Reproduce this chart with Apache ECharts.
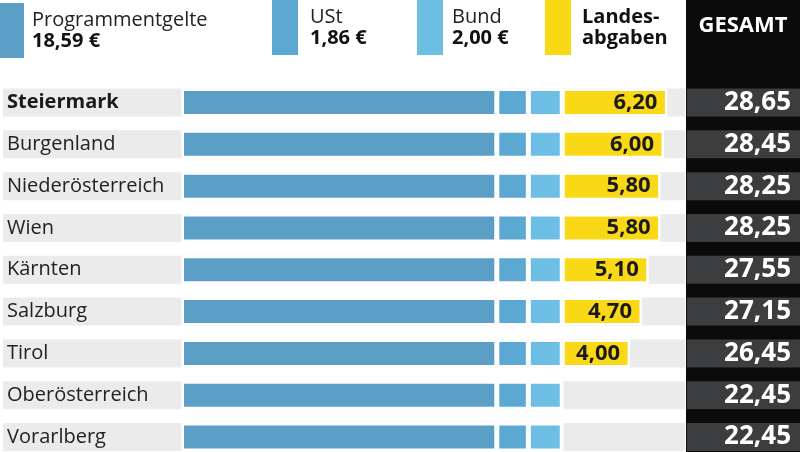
<!DOCTYPE html>
<html>
<head>
<meta charset="utf-8">
<script src="https://cdn.jsdelivr.net/npm/echarts@6/dist/echarts.min.js"></script>
<style>
html,body{margin:0;padding:0;background:#fff;}
#chart{width:800px;height:452px;}
</style>
</head>
<body>
<div id="chart"></div>
<script>
const categories = ['Steiermark','Burgenland','Niederösterreich','Wien','Kärnten','Salzburg','Tirol','Oberösterreich','Vorarlberg'];
const boldCategory = 'Steiermark';
const programmentgelte = [18.59,18.59,18.59,18.59,18.59,18.59,18.59,18.59,18.59];
const ust = [1.86,1.86,1.86,1.86,1.86,1.86,1.86,1.86,1.86];
const bund = [2.00,2.00,2.00,2.00,2.00,2.00,2.00,2.00,2.00];
const landesabgaben = [6.20,6.00,5.80,5.80,5.10,4.70,4.00,0,0];
const gesamt = [28.65,28.45,28.25,28.25,27.55,27.15,26.45,22.45,22.45];
const legendValues = [18.59, 1.86, 2.00];

const FONT = '"Open Sans", sans-serif';
const fmt = v => v.toFixed(2).replace('.', ',');
const C_PROG = '#5b9fc7', C_UST = '#5ba9d2', C_BUND = '#6cbee5', C_LAND = '#f9d816';

const chart = echarts.init(document.getElementById('chart'));
// category ticks at row centres (boundaryGap false)
const firstRow = 102.5, lastRow = 437;
const unit = 16.96;
const left = 3, zeroX = 181.5, rightEdge = 685;

const barCommon = {
  type: 'bar', stack: 'a', barWidth: 28, xAxisIndex: 0, yAxisIndex: 0, clip: false,
  emphasis: {disabled: true}
};
function legendFor(name, x, top, pad, text) {
  return {
    data: [name], left: x, top: top, padding: 0, itemWidth: 26, itemHeight: 55, icon: 'rect',
    selectedMode: false, itemStyle: {borderWidth: 0},
    formatter: () => text,
    textStyle: {
      fontFamily: FONT, color: '#222',
      rich: {
        a: {fontSize: 20, fontFamily: FONT, color: '#222', lineHeight: 21, padding: [0,0,0,pad]},
        b: {fontSize: 20, fontFamily: FONT, color: '#111', fontWeight: 'bold', lineHeight: 21, padding: [0,0,0,pad]}
      }
    }
  };
}

chart.setOption({
  animation: false,
  backgroundColor: '#fff',
  graphic: [
    {type: 'rect', left: 686, top: 0, shape: {width: 114, height: 452}, style: {fill: '#0b0b0b'}, z: -1},
    {type: 'text', x: 743, y: 15, style: {text: 'GESAMT', fill: '#fff', font: 'bold 22px ' + FONT, textAlign: 'center', textVerticalAlign: 'top'}}
  ],
  legend: [
    legendFor('Programmentgelte', -2, 3, 3, '{a|Programmentgelte}\n{b|' + fmt(legendValues[0]) + ' €}'),
    legendFor('USt', 272, 0, 7, '{a|USt}\n{b|' + fmt(legendValues[1]) + ' €}'),
    legendFor('Bund', 417, 0, 4, '{a|Bund}\n{b|' + fmt(legendValues[2]) + ' €}'),
    legendFor('Landesabgaben', 545, 0, 6, '{b|Landes-}\n{b|abgaben}')
  ],
  grid: [
    {left: left, width: rightEdge - left, top: firstRow, height: lastRow - firstRow, containLabel: false},
    {left: 687, right: 0, top: firstRow, height: lastRow - firstRow, containLabel: false}
  ],
  xAxis: [
    {type: 'value', gridIndex: 0, min: -(zeroX - left) / unit, max: (rightEdge - zeroX) / unit, show: false},
    {type: 'value', gridIndex: 1, min: 0, max: 30, inverse: true, show: false}
  ],
  yAxis: [
    {type: 'category', gridIndex: 0, data: categories, inverse: true, boundaryGap: false,
      axisLine: {show: false, onZero: false}, axisTick: {show: false}, splitLine: {show: false},
      axisLabel: {inside: true, interval: 0, margin: 4, fontFamily: FONT, fontSize: 20, color: '#222',
        formatter: v => v === boldCategory ? '{b|' + v + '}' : v,
        rich: {b: {fontFamily: FONT, fontSize: 20, fontWeight: 'bold', color: '#1a1a1a'}}},
      z: 10},
    {type: 'category', gridIndex: 1, data: categories, inverse: true, boundaryGap: false, show: false}
  ],
  series: [
    Object.assign({}, barCommon, {name: 'Programmentgelte', data: programmentgelte,
      showBackground: true, backgroundStyle: {color: '#ebebeb'},
      itemStyle: {color: C_PROG, borderColor: '#fff', borderWidth: 2.5}}),
    Object.assign({}, barCommon, {name: 'USt', data: ust,
      itemStyle: {color: C_UST, borderColor: '#fff', borderWidth: 2.5}}),
    Object.assign({}, barCommon, {name: 'Bund', data: bund,
      itemStyle: {color: C_BUND, borderColor: '#fff', borderWidth: 2.5}}),
    Object.assign({}, barCommon, {name: 'Landesabgaben', data: landesabgaben,
      itemStyle: {color: C_LAND, borderColor: '#fff', borderWidth: 2.5},
      label: {show: true, position: 'insideRight', distance: 10,
        formatter: p => p.value > 0 ? fmt(p.value) : '',
        fontFamily: FONT, fontSize: 22, fontWeight: 'bold', color: '#1a1a1a'}}),
    {type: 'bar', name: 'Gesamt', xAxisIndex: 1, yAxisIndex: 1, data: gesamt, barWidth: 28, clip: false,
      emphasis: {disabled: true},
      itemStyle: {color: 'rgba(0,0,0,0)'},
      showBackground: true, backgroundStyle: {color: '#3c3d3f'},
      label: {show: true, position: 'insideRight', distance: 9,
        formatter: p => fmt(p.value),
        fontFamily: FONT, fontSize: 26, fontWeight: 'bold', color: '#fff'}}
  ]
});
</script>
</body>
</html>
